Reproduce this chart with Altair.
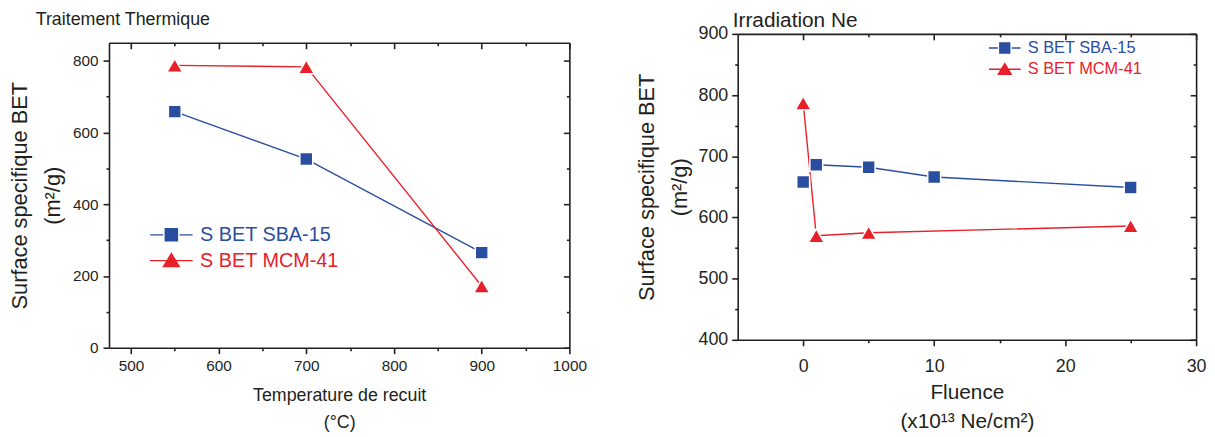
import altair as alt
import pandas as pd

# ---------------- data ----------------
series_names = ["S BET SBA-15", "S BET MCM-41"]

# Panel 1 : Traitement Thermique
temp_sba = [550, 700, 900]
bet_sba_temp = [658, 526, 265]
temp_mcm = [550, 700, 900]
bet_mcm_temp = [787, 783, 172]

# Panel 2 : Irradiation Ne
fluence_sba = [0, 1, 5, 10, 25]
bet_sba_ne = [658, 686, 682, 666, 649]
joined_sba_ne = [False, True, True, True, True]
fluence_mcm = [0, 1, 5, 25]
bet_mcm_ne = [787, 570, 575, 586]
joined_mcm_ne = [True, True, True, True]

# tick values
temp_major = [500, 600, 700, 800, 900, 1000]
temp_minor = [550, 650, 750, 850, 950]
bet_left_major = [0, 200, 400, 600, 800]
bet_left_minor = [100, 300, 500, 700]
fluence_major = [0, 10, 20, 30]
fluence_minor = [5, 15, 25]
bet_right_major = [400, 500, 600, 700, 800, 900]
bet_right_minor = [450, 550, 650, 750, 850]

BLUE = "#2a4e9f"
RED = "#e8202a"
TXT = "#231f20"
FONT = "Liberation Sans"
LW = 1.6


def make_df(xa, ya, ja, xb, yb, jb):
    rows = []
    for x, y, j in zip(xa, ya, ja):
        rows.append({"x": x, "y": y, "series": series_names[0], "joined": j})
    for x, y, j in zip(xb, yb, jb):
        rows.append({"x": x, "y": y, "series": series_names[1], "joined": j})
    return pd.DataFrame(rows)


df_temp = make_df(temp_sba, bet_sba_temp, [True] * 3, temp_mcm, bet_mcm_temp, [True] * 3)
df_ne = make_df(fluence_sba, bet_sba_ne, joined_sba_ne, fluence_mcm, bet_mcm_ne, joined_mcm_ne)


def panel(df, xdom, ydom, xmaj, xmin, ymaj, ymin, width, height, top_gap, xtitle, ytitle,
          label_size, xtitle_size, x_line_h, ytitle_size, y_line_h,
          x_label_pad, y_label_pad, x_title_pad, y_title_pad, x_format,
          legend_size, leg_x, leg_y, leg_font, leg_offset, leg_row, leg_paths, title):
    xs = alt.Scale(domain=xdom, nice=False, zero=False)
    ys = alt.Scale(domain=ydom, nice=False, zero=False, range=[height, top_gap])
    cs = alt.Scale(domain=series_names, range=[BLUE, RED])
    base = alt.Chart(df)

    def xy(xaxis, yaxis):
        return dict(x=alt.X("x:Q", scale=xs, axis=xaxis), y=alt.Y("y:Q", scale=ys, axis=yaxis))

    common = dict(grid=False, tickColor=TXT, domainColor=TXT, tickWidth=LW, domainWidth=LW)
    main_x = alt.Axis(orient="bottom", values=xmaj, ticks=True, tickSize=6, domain=True,
                      labelPadding=x_label_pad, labelFontSize=label_size, format=x_format,
                      title=xtitle, titleFontSize=xtitle_size, titleLineHeight=x_line_h,
                      titlePadding=x_title_pad, labelFlush=False, labelOverlap=False, **common)
    main_y = alt.Axis(orient="left", values=ymaj, ticks=True, tickSize=6, domain=True,
                      labelPadding=y_label_pad, labelFontSize=label_size,
                      title=ytitle, titleFontSize=ytitle_size, titleLineHeight=y_line_h,
                      titlePadding=y_title_pad, labelFlush=False, labelOverlap=False, **common)

    lines = base.transform_filter("datum.joined").mark_line(strokeWidth=1.4).encode(
        color=alt.Color("series:N", scale=cs, legend=None),
        order="x:Q",
        **xy(main_x, main_y),
    )
    pts_sba = base.transform_filter(f"datum.series == '{series_names[0]}'").mark_point(
        filled=True, shape="square", size=169, opacity=1, stroke="white", strokeWidth=1.5
    ).encode(color=alt.Color("series:N", scale=cs, legend=None), **xy(None, None))
    pts_mcm = base.transform_filter(f"datum.series == '{series_names[1]}'").mark_point(
        filled=True, shape="triangle-up", size=256, opacity=1, stroke="white", strokeWidth=1.5
    ).encode(color=alt.Color("series:N", scale=cs, legend=None), **xy(None, None))

    color_expr = f"datum.value == '{series_names[0]}' ? '{BLUE}' : '{RED}'"
    leg = alt.Legend(title=None, orient="none", legendX=leg_x, legendY=leg_y,
                     symbolSize=legend_size, labelFontSize=leg_font, labelFont=FONT,
                     labelColor={"expr": color_expr}, symbolStrokeColor={"expr": color_expr},
                     symbolFillColor={"expr": color_expr},
                     symbolStrokeWidth=1.4, labelOffset=leg_offset, rowPadding=leg_row,
                     padding=0, symbolOpacity=1)
    legend_layer = base.transform_filter("false").mark_point(filled=True, opacity=1).encode(
        color=alt.Color("series:N", scale=cs, legend=leg),
        shape=alt.Shape("series:N", scale=alt.Scale(domain=series_names, range=leg_paths), legend=leg),
        **xy(None, None),
    )

    def axis_layer(xo, yo, xv, yv, size, xoff, yoff, domain, ticks):
        ax = alt.Axis(orient=xo, values=xv, ticks=ticks, tickSize=size, offset=xoff, labels=False,
                      domain=domain, title=None, minExtent=0, **common)
        ay = alt.Axis(orient=yo, values=yv, ticks=ticks, tickSize=size, offset=yoff, labels=False,
                      domain=domain, title=None, **common)
        return base.transform_filter("false").mark_point().encode(**xy(ax, ay))

    minor_out = axis_layer("bottom", "left", xmin, ymin, 3, 0, 0, False, True)
    frame = axis_layer("top", "right", xmaj, ymaj, 1, -top_gap, 0, True, False)
    major_in = axis_layer("top", "right", xmaj, ymaj, 6, -top_gap - 6, -6, False, True)
    minor_in = axis_layer("top", "right", xmin, ymin, 3, -top_gap - 3, -3, False, True)

    return alt.layer(lines, pts_sba, pts_mcm, legend_layer, minor_out, frame, major_in, minor_in).resolve_axis(
        x="independent", y="independent"
    ).resolve_scale(shape="independent").properties(width=width, height=height, title=title)


sq_path_l = "M-3.5,0H-1.35M1.35,0H3.5M-1,-1H1V1H-1Z"
tri_path_l = "M-3.5,0H3.5M0,-1.15L1.3,1H-1.3Z"
sq_path_r = "M-3.2,0H-1.4M1.4,0H3.2M-1,-1H1V1H-1Z"
tri_path_r = "M-3.2,0H3.2M0,-1.15L1.3,1H-1.3Z"

left = panel(
    df_temp, [475, 1000], [0, 850], temp_major, temp_minor, bet_left_major, bet_left_minor,
    465, 317, 9, ["Temperature de recuit", "(°C)"], ["Surface specifique BET", "(m²/g)"],
    15.5, 18, 28, 22, 33,
    5.5, 5, 12, 8, "d",
    150, 53, 193, 20, 19, 6, [sq_path_l, tri_path_l],
    alt.TitleParams("Traitement Thermique", anchor="start", frame="group", dx=-74, offset=-9.5,
                    baseline="alphabetic", fontSize=18, font=FONT, fontWeight="normal", color=TXT),
)

right = panel(
    df_ne, [-5, 30], [400, 900], fluence_major, fluence_minor, bet_right_major, bet_right_minor,
    463, 309, 0, ["Fluence", "(x10¹³ Ne/cm²)"], ["Surface specifique BET", "(m²/g)"],
    18, 21, 30, 22, 33,
    12, 4, 6, 7, "d",
    100, 261.5, 6, 16.5, 15, 3.5, [sq_path_r, tri_path_r],
    alt.TitleParams("Irradiation Ne", anchor="start", frame="group", dx=-5, offset=-23.5,
                    baseline="alphabetic", fontSize=21, font=FONT, fontWeight="normal", color=TXT),
)

chart = alt.concat(left, right, columns=2, spacing=48).properties(
    padding={"left": 1, "top": 0, "right": 0, "bottom": 0}
).configure_axis(
    labelFont=FONT, titleFont=FONT, labelColor=TXT, titleColor=TXT, titleFontWeight="normal",
).configure_view(strokeWidth=0)

chart.save("out.html", embed_options={"renderer": "svg", "actions": False})
